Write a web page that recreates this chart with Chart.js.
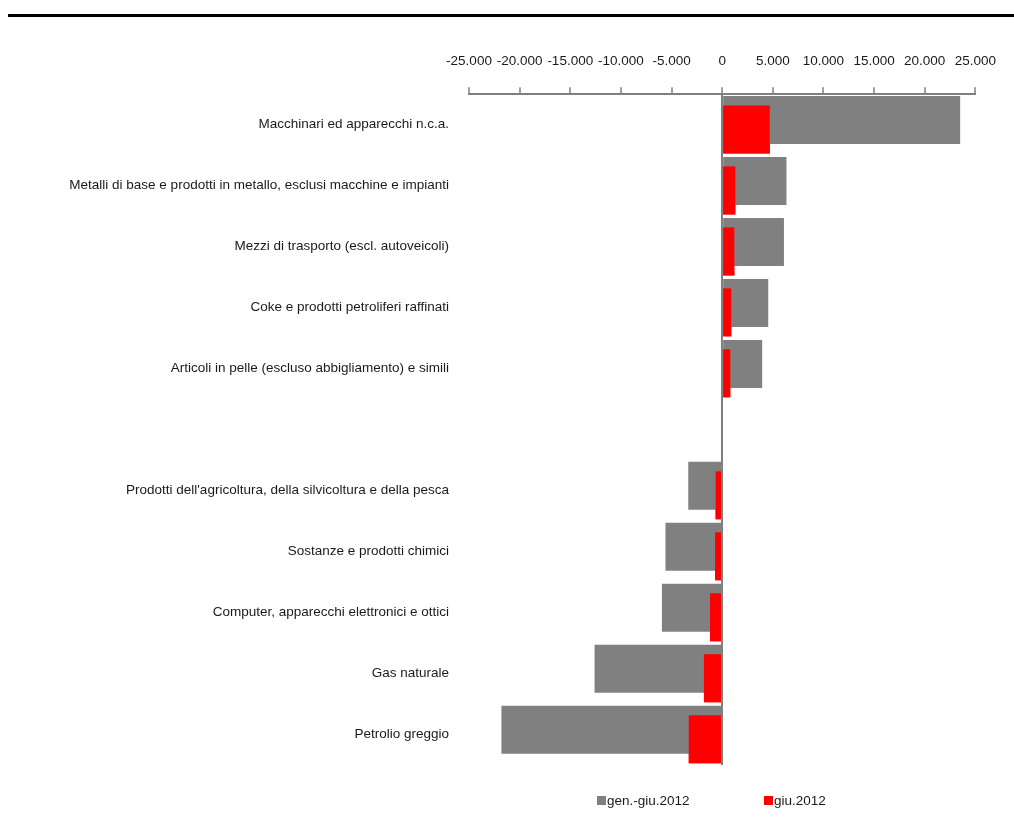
<!DOCTYPE html>
<html lang="it">
<head>
<meta charset="utf-8">
<title>Bilancia commerciale per settore</title>
<script src="https://cdn.jsdelivr.net/npm/chart.js"></script>
<style>
    body {
        margin: 0;
        background: #fff;
        font-family: 'Liberation Sans', Arial, sans-serif;
    }
    #wrap {
        position: relative;
        width: 1014px;
        height: 834px;
    }
    #topRule {
        position: absolute;
        left: 8px;
        top: 14px;
        width: 1006px;
        height: 3px;
        background: #000;
    }
    #legend {
        position: absolute;
        top: 793px;
        left: 597px;
        font-size: 13.5px;
        color: #1a1a1a;
        white-space: nowrap;
    }
    #legend span.item {
        position: absolute;
        top: 0;
    }
    #legend i {
        display: inline-block;
        width: 9px;
        height: 9px;
        margin-right: 1px;
        vertical-align: 0px;
    }
</style>
</head>
<body>
<div id="wrap">
    <div id="topRule"></div>
    <canvas id="barChart"></canvas>
    <div id="legend"></div>
</div>
<script>
const categories = [
    'Macchinari ed apparecchi n.c.a.',
    'Metalli di base e prodotti in metallo, esclusi macchine e impianti',
    'Mezzi di trasporto (escl. autoveicoli)',
    'Coke e prodotti petroliferi raffinati',
    'Articoli in pelle (escluso abbigliamento) e simili',
    '',
    "Prodotti dell'agricoltura, della silvicoltura e della pesca",
    'Sostanze e prodotti chimici',
    'Computer, apparecchi elettronici e ottici',
    'Gas naturale',
    'Petrolio greggio'
];

const periodValues = [23500, 6350, 6100, 4550, 3950, null, -3350, -5600, -5950, -12600, -21800];
const monthValues = [4700, 1300, 1200, 900, 800, null, -650, -700, -1200, -1800, -3300];

const seriesNames = ['gen.-giu.2012', 'giu.2012'];
const seriesColors = ['#808080', '#ff0000'];

const axisColor = '#808080';
const textColor = '#1a1a1a';
const fontFamily = "'Liberation Sans', Arial, sans-serif";

function formatThousands(value) {
    let sign = value < 0 ? '-' : '';
    let digits = String(Math.abs(value)).replace(/\B(?=(\d{3})+(?!\d))/g, '.');
    return sign + digits;
}

// the monthly bars sit over the cumulative ones
const redrawMonth = {
    id: 'redrawMonth',
    afterDatasetsDraw(chart) {
        const meta = chart.getDatasetMeta(1);
        meta.data.forEach(bar => bar.draw(chart.ctx));
    }
};

const barCtx = document.getElementById('barChart').getContext('2d');
const barChart = new Chart(barCtx, {
    type: 'bar',
    data: {
        labels: categories,
        datasets: [{
            label: seriesNames[0],
            data: periodValues,
            backgroundColor: seriesColors[0],
            categoryPercentage: 0.31,
            barPercentage: 5.08
        }, {
            label: seriesNames[1],
            data: monthValues,
            backgroundColor: seriesColors[1],
            categoryPercentage: 0.31,
            barPercentage: 5.08
        }]
    },
    options: {
        indexAxis: 'y',
        responsive: true,
        maintainAspectRatio: false,
        animation: false,
        layout: {
            padding: { top: 35, right: 37, bottom: 69, left: 0 }
        },
        scales: {
            x: {
                position: 'top',
                min: -25000,
                max: 25000,
                border: {
                    display: true,
                    color: axisColor,
                    width: 2,
                    z: 1
                },
                grid: {
                    z: 1,
                    drawTicks: true,
                    tickLength: 7,
                    tickColor: axisColor,
                    tickWidth: 1.5,
                    lineWidth: 2,
                    color: ctx => (ctx.tick && ctx.tick.value === 0) ? axisColor : 'rgba(0,0,0,0)'
                },
                ticks: {
                    stepSize: 5000,
                    padding: 18,
                    color: textColor,
                    font: { family: fontFamily, size: 13.5 },
                    maxRotation: 0,
                    callback: value => formatThousands(value)
                }
            },
            y: {
                grid: { display: false },
                border: { display: false },
                ticks: {
                    padding: 12,
                    color: textColor,
                    autoSkip: false,
                    font: { family: fontFamily, size: 13.5 }
                },
                afterFit: scale => { scale.width = 469; }
            }
        },
        plugins: {
            legend: { display: false },
            tooltip: { enabled: false }
        }
    },
    plugins: [redrawMonth]
});

// legend under the plot
const legendBox = document.getElementById('legend');
const legendOffsets = [0, 167];
seriesNames.forEach((name, i) => {
    let item = document.createElement('span');
    item.className = 'item';
    item.style.left = legendOffsets[i] + 'px';
    item.innerHTML = '<i style="background:' + seriesColors[i] + '"></i>' + name;
    legendBox.appendChild(item);
});
</script>
</body>
</html>
